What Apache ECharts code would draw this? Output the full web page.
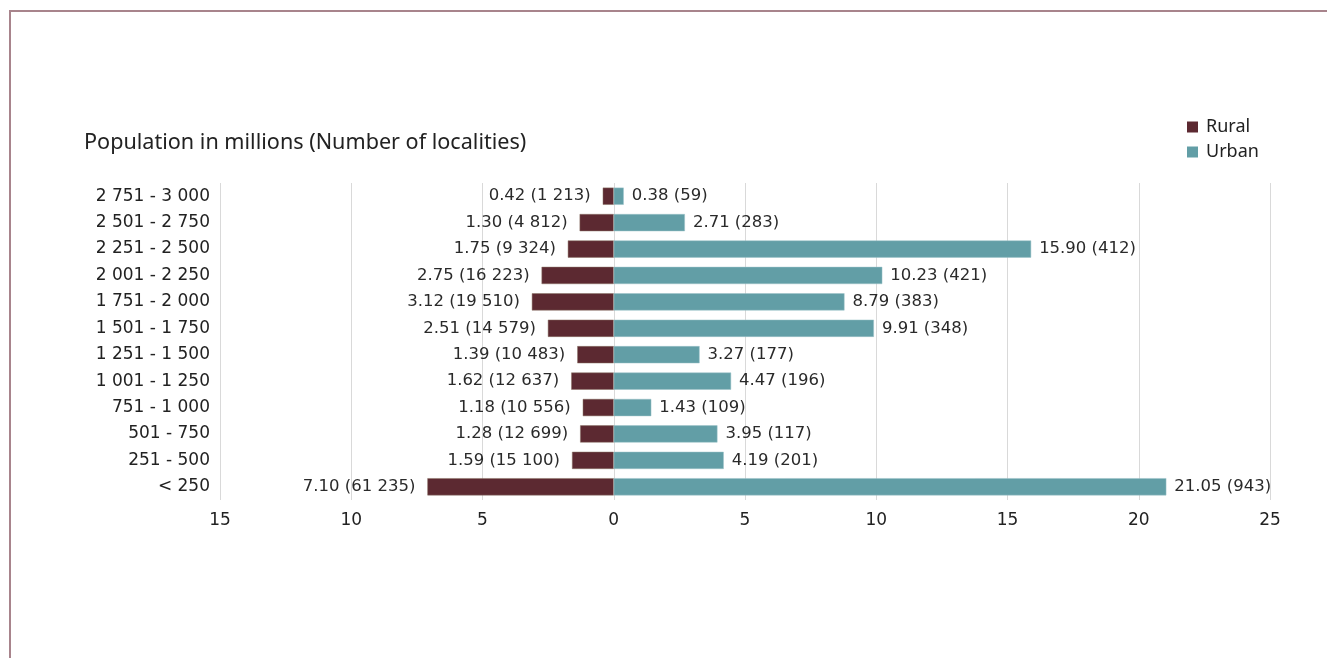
<!DOCTYPE html>
<html><head><meta charset="utf-8">
<script src="https://cdn.jsdelivr.net/npm/echarts@6/dist/echarts.min.js"></script>
<style>
html,body{margin:0;padding:0;background:#fff;}
#frame{position:absolute;left:9px;top:10px;width:1318px;height:648px;border-top:2px solid #a8848c;border-left:2px solid #a8848c;box-sizing:border-box;}
#c{position:absolute;left:0;top:0;width:1327px;height:658px;}
</style></head>
<body>
<div id="frame"></div>
<div id="c"></div>
<script>
const categories = ["< 250","251 - 500","501 - 750","751 - 1 000","1 001 - 1 250","1 251 - 1 500","1 501 - 1 750","1 751 - 2 000","2 001 - 2 250","2 251 - 2 500","2 501 - 2 750","2 751 - 3 000"];
const ruralPop = [7.10,1.59,1.28,1.18,1.62,1.39,2.51,3.12,2.75,1.75,1.30,0.42];
const ruralCount = ["61 235","15 100","12 699","10 556","12 637","10 483","14 579","19 510","16 223","9 324","4 812","1 213"];
const urbanPop = [21.05,4.19,3.95,1.43,4.47,3.27,9.91,8.79,10.23,15.90,2.71,0.38];
const urbanCount = ["943","201","117","109","196","177","348","383","421","412","283","59"];
const axisTicks = [-15,-10,-5,0,5,10,15,20,25];

const FONT = "'Noto Sans', sans-serif";
const NUMFONT = "'DejaVu Sans', sans-serif";
const chart = echarts.init(document.getElementById('c'));
chart.setOption({
  animation:false,
  textStyle:{fontFamily:FONT},
  title:{text:'Population in millions (Number of localities)',left:79,top:127,
    textStyle:{fontFamily:FONT,fontSize:21.6,fontWeight:'normal',color:'#222'}},
  legend:{orient:'vertical',left:1182,top:113,itemWidth:11,itemHeight:11,itemGap:7,
    icon:'rect',itemStyle:{borderWidth:0},
    textStyle:{fontFamily:FONT,fontSize:18,color:'#222',padding:[0,0,0,3]},
    data:['Rural','Urban']},
  grid:{left:220,right:57,top:183,bottom:158,containLabel:false},
  xAxis:{type:'value',min:axisTicks[0],max:axisTicks[axisTicks.length-1],interval:5,
    axisLine:{show:false},axisTick:{show:false},
    splitLine:{lineStyle:{color:'#d9d9d9',width:1}},
    axisLabel:{formatter:v=>Math.abs(v),fontFamily:NUMFONT,fontSize:17,color:'#222',margin:12}},
  yAxis:{type:'category',data:categories,
    axisLine:{show:false},axisTick:{show:false},
    axisLabel:{fontFamily:NUMFONT,fontSize:17,color:'#222',margin:10}},
  series:[
    {name:'Rural',type:'bar',stack:'s',barWidth:'65%',
      data:ruralPop.map(v=>-v),
      itemStyle:{color:'#5c2931',borderColor:'#8a7466',borderWidth:0.5},
      label:{show:true,position:'left',distance:12,fontFamily:NUMFONT,fontSize:16.5,color:'#2a2a2a',
        formatter:p=>ruralPop[p.dataIndex].toFixed(2)+' ('+ruralCount[p.dataIndex]+')'}},
    {name:'Urban',type:'bar',stack:'s',barWidth:'65%',
      data:urbanPop,
      itemStyle:{color:'#629ea6',borderColor:'#9cc3c8',borderWidth:0.5},
      label:{show:true,position:'right',distance:8,fontFamily:NUMFONT,fontSize:16.5,color:'#2a2a2a',
        formatter:p=>urbanPop[p.dataIndex].toFixed(2)+' ('+urbanCount[p.dataIndex]+')'}}
  ]
});
</script>
</body></html>
